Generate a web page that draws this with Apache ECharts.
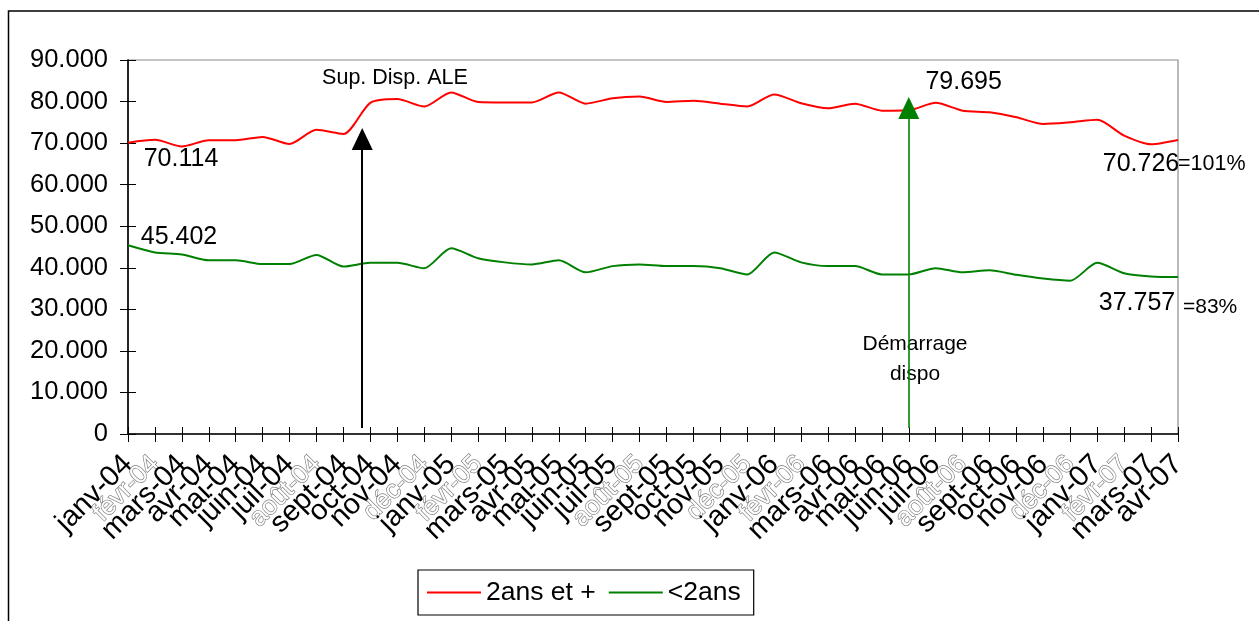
<!DOCTYPE html>
<html>
<head>
<meta charset="utf-8">
<script src="https://cdn.jsdelivr.net/npm/echarts@6/dist/echarts.min.js"></script>
<style>
html,body{margin:0;padding:0;background:#fff;}
#c{width:1259px;height:621px;}
</style>
</head>
<body>
<div id="c"></div>
<script>
var categories = ['janv-04','févr-04','mars-04','avr-04','mai-04','juin-04','juil-04','août-04','sept-04','oct-04','nov-04','déc-04',
  'janv-05','févr-05','mars-05','avr-05','mai-05','juin-05','juil-05','août-05','sept-05','oct-05','nov-05','déc-05',
  'janv-06','févr-06','mars-06','avr-06','mai-06','juin-06','juil-06','août-06','sept-06','oct-06','nov-06','déc-06',
  'janv-07','févr-07','mars-07','avr-07'];

var plus2ans = [70114, 70800, 69200, 70700, 70700, 71500, 69800, 73200, 72200, 79700, 80600, 78800,
  82200, 79900, 79800, 79800, 82200, 79500, 80800, 81200, 79900, 80200, 79500, 78800,
  81700, 79600, 78400, 79500, 77800, 77900, 79695, 77800, 77400, 76200, 74600, 75000,
  75600, 71800, 69700, 70726];

var moins2ans = [45402, 43700, 43200, 41800, 41800, 40900, 40900, 43100, 40300, 41200, 41200, 39900,
  44700, 42300, 41300, 40800, 41800, 38900, 40400, 40800, 40400, 40400, 39900, 38400,
  43700, 41300, 40400, 40400, 38400, 38400, 39900, 38900, 39400, 38300, 37400, 36900,
  41200, 38700, 37900, 37757];

var yTicks = {min: 0, max: 90000, interval: 10000};
var seriesNames = ['2ans et +', '<2ans'];
// annotation arrows: [x position in category index units, from value, to value]
var arrowALE = [8.7, 1450, 71000];
var arrowDispo = [29, 1450, 78450];

var FONT = 'Liberation Sans, Arial, sans-serif';

function fmtThousands(v) {
  if (v === 0) return '0';
  return (v / 1000).toFixed(3);
}

function labelled(values, labels) {
  return values.map(function (v, i) {
    if (labels[i]) {
      return {value: v, label: {show: true, position: 'inside', offset: labels[i], color: '#000',
        fontSize: 25, fontFamily: FONT, formatter: function (p) { return fmtThousands(p.value); }}};
    }
    return v;
  });
}

var redLabels = {0: [53, 16], 30: [28, -21], 39: [-37, 24]};
var greenLabels = {0: [51, -8], 39: [-41, 26]};

var chart = echarts.init(document.getElementById('c'));

var catAxisBase = {
  type: 'category', data: categories, boundaryGap: false, gridIndex: 0
};

chart.setOption({
  animation: false,
  backgroundColor: '#fff',
  textStyle: {fontFamily: FONT},
  grid: {left: 128, right: 81, top: 60, bottom: 187, show: true, borderColor: '#8c8c8c', borderWidth: 1.2},
  legend: {
    left: 418, top: 570,
    data: [{name: seriesNames[0], icon: 'rect'}, {name: seriesNames[1], icon: 'rect'}],
    itemWidth: 54, itemHeight: 2, itemGap: 13,
    padding: [9, 13, 9, 9],
    borderColor: '#000', borderWidth: 1.2,
    textStyle: {fontSize: 26.5, color: '#000', fontFamily: FONT},
    selectedMode: false
  },
  xAxis: [
    Object.assign({}, catAxisBase, {
      axisLine: {lineStyle: {color: '#000', width: 1.6}},
      axisTick: {show: true, interval: 0, length: 8, lineStyle: {color: '#000', width: 1}},
      axisLabel: {
        interval: 0, rotate: 45, margin: 26, color: '#000', fontSize: 29, fontFamily: FONT,
        formatter: function (v) { return /[éû]/.test(v) ? '{g|' + v + '}' : v; },
        rich: {g: {color: '#ffffff', textBorderColor: '#7a7a7a', textBorderWidth: 1.3, fontSize: 26, fontFamily: FONT}}
      },
      splitLine: {show: false}
    }),
    Object.assign({}, catAxisBase, {
      position: 'bottom',
      axisLine: {show: false},
      axisTick: {show: true, inside: true, interval: 0, length: 7, lineStyle: {color: '#000', width: 1}},
      axisLabel: {show: false},
      splitLine: {show: false}
    }),
    {type: 'value', min: 0, max: categories.length - 1, show: false, gridIndex: 0}
  ],
  yAxis: [
    {
      type: 'value', min: yTicks.min, max: yTicks.max, interval: yTicks.interval,
      axisLine: {show: true, lineStyle: {color: '#000', width: 1.6}},
      axisTick: {show: true, length: 8, lineStyle: {color: '#000', width: 1}},
      axisLabel: {color: '#000', fontSize: 25.5, fontFamily: FONT, margin: 20, formatter: fmtThousands},
      splitLine: {show: false}
    },
    {
      type: 'value', min: yTicks.min, max: yTicks.max, interval: yTicks.interval, position: 'left', offset: 0,
      axisLine: {show: false},
      axisTick: {show: true, inside: true, length: 8, lineStyle: {color: '#000', width: 1}},
      axisLabel: {show: false},
      splitLine: {show: false}
    }
  ],
  series: [
    {
      name: seriesNames[0], type: 'line', xAxisIndex: 0, yAxisIndex: 0,
      data: labelled(plus2ans, redLabels),
      smooth: 0.25, symbol: 'circle', symbolSize: 0, showSymbol: true, showAllSymbol: true,
      lineStyle: {color: '#ff0000', width: 2}, itemStyle: {color: '#ff0000'},
      silent: true, emphasis: {disabled: true}, z: 3
    },
    {
      name: seriesNames[1], type: 'line', xAxisIndex: 0, yAxisIndex: 0,
      data: labelled(moins2ans, greenLabels),
      smooth: 0.25, symbol: 'circle', symbolSize: 0, showSymbol: true, showAllSymbol: true,
      lineStyle: {color: '#008000', width: 2}, itemStyle: {color: '#008000'},
      silent: true, emphasis: {disabled: true}, z: 3
    },
    {
      name: 'arrows', type: 'line', xAxisIndex: 2, yAxisIndex: 0, data: [], silent: true,
      markLine: {
        silent: true, animation: false,
        symbol: ['none', 'triangle'], symbolSize: [21, 22],
        label: {show: false},
        emphasis: {disabled: true},
        data: [
          [{coord: [arrowALE[0], arrowALE[1]], lineStyle: {color: '#000', width: 2, type: 'solid'}, itemStyle: {color: '#000'}},
           {coord: [arrowALE[0], arrowALE[2]]}],
          [{coord: [arrowDispo[0], arrowDispo[1]], lineStyle: {color: '#008000', width: 1.6, type: 'solid'}, itemStyle: {color: '#008000'}},
           {coord: [arrowDispo[0], arrowDispo[2]]}]
        ]
      }
    }
  ],
  graphic: [
    {type: 'rect', silent: true, shape: {x: 8.5, y: 11, width: 1300, height: 700},
      style: {fill: 'none', stroke: '#000', lineWidth: 1.5}},
    {type: 'text', silent: true, x: 395, y: 78,
      style: {text: 'Sup. Disp. ALE', fill: '#000', font: '21.5px ' + FONT, align: 'center', verticalAlign: 'middle'}},
    {type: 'text', silent: true, x: 915, y: 359,
      style: {text: 'Démarrage\ndispo', fill: '#000', font: '21px ' + FONT, align: 'center', verticalAlign: 'middle', lineHeight: 30}},
    {type: 'text', silent: true, x: 1178, y: 164,
      style: {text: '=101%', fill: '#000', font: '21.5px ' + FONT, align: 'left', verticalAlign: 'middle'}},
    {type: 'text', silent: true, x: 1183, y: 307,
      style: {text: '=83%', fill: '#000', font: '21px ' + FONT, align: 'left', verticalAlign: 'middle'}}
  ]
});
</script>
</body>
</html>
